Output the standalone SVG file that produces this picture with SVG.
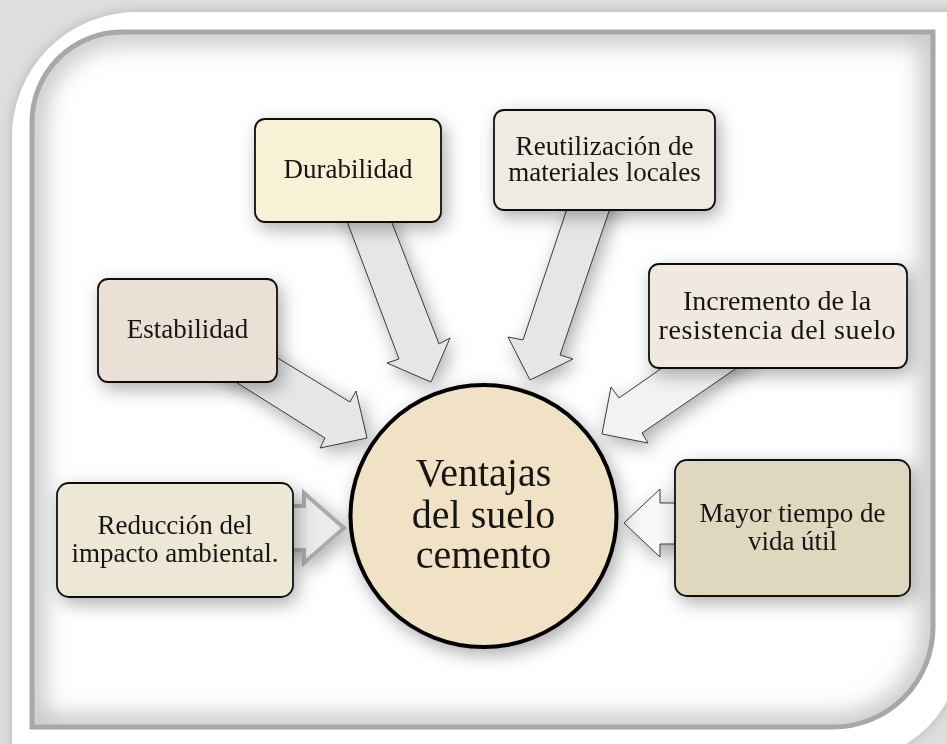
<svg xmlns="http://www.w3.org/2000/svg" width="947" height="744" viewBox="0 0 947 744">
<defs>
<style>
.box{stroke:#111;stroke-width:1.8}
.t{font-family:"Liberation Serif","Times New Roman",serif;font-size:27px;fill:#141414;text-anchor:middle}
.big{font-size:40px}
.arr{fill:#e6e6e6;stroke:#3a3a3a;stroke-width:1;stroke-linejoin:miter}
</style>
<filter id="sh" x="-30%" y="-30%" width="160%" height="160%">
<feDropShadow dx="4" dy="6" stdDeviation="9" flood-color="#000" flood-opacity="0.32"/>
</filter>
<filter id="fsh" x="-10%" y="-10%" width="120%" height="120%">
<feDropShadow dx="0" dy="0" stdDeviation="6" flood-color="#000" flood-opacity="0.2"/>
</filter>
<filter id="blur" x="-10%" y="-10%" width="120%" height="120%">
<feGaussianBlur stdDeviation="12"/>
</filter>
<clipPath id="panelClip">
<path d="M32,122 A90,90 0 0 1 122,32 H933 V627 A100,100 0 0 1 833,727 H32 Z"/>
</clipPath>
</defs>

<rect x="0" y="0" width="947" height="744" fill="#dedede"/>
<path d="M12,137 A125,125 0 0 1 137,12 H960 V630 A115,115 0 0 1 832,760 H12 Z" fill="#ffffff" filter="url(#fsh)"/>
<path d="M32,122 A90,90 0 0 1 122,32 H933 V627 A100,100 0 0 1 833,727 H32 Z" fill="#ffffff"/>
<g clip-path="url(#panelClip)">
<path d="M32,122 A90,90 0 0 1 122,32 H933 V627 A100,100 0 0 1 833,727 H32 Z" fill="none" stroke="#bdbdbd" stroke-width="22" filter="url(#blur)"/>
</g>
<path d="M32,122 A90,90 0 0 1 122,32 H933 V627 A100,100 0 0 1 833,727 H32 Z" fill="none" stroke="#a8a8a8" stroke-width="5"/>

<g id="connectors" filter="url(#sh)">
<polygon class="arr" points="243,337 350,402 356,391 367,438 320,448 325,438 204,362"/>
<polygon class="arr" points="336,192 399,359 387,363 431,382 450,338 439,344 380,192"/>
<polygon class="arr" points="576,182 523,340 508,337 530,380 573,359 560,355 619,182"/>
<polygon class="arr" style="fill:#f2f2f2" points="685,352 619,398 611,387 602,434 648,443 642,433 760,352"/>
<polygon class="arr" style="fill:#f7f7f7" points="700,503 660,503 660,489 624,523 660,557 660,544 700,544"/>
<polygon points="270,506 304,506 304,493 344,528 304,563 304,550 270,550" fill="#ebebeb" stroke="#ababab" stroke-width="4" stroke-linejoin="miter"/>
</g>

<g id="node-durabilidad" filter="url(#sh)">
<rect class="box" x="255" y="119" width="186" height="103" rx="10" fill="#f9f1d5"/>
<text class="t" x="348" y="178">Durabilidad</text>
</g>
<g id="node-reutilizacion" filter="url(#sh)">
<rect class="box" x="494" y="110" width="221" height="100" rx="10" fill="#efebe1"/>
<text class="t" x="604.5" y="155" textLength="178" lengthAdjust="spacing">Reutilización de</text>
<text class="t" x="604.5" y="181">materiales locales</text>
</g>
<g id="node-estabilidad" filter="url(#sh)">
<rect class="box" x="98" y="279" width="179" height="103" rx="10" fill="#ebe0d6"/>
<text class="t" x="187.5" y="338">Estabilidad</text>
</g>
<g id="node-incremento" filter="url(#sh)">
<rect class="box" x="649" y="264" width="258" height="104" rx="10" fill="#efe9df"/>
<text class="t" x="777" y="310" style="font-size:28px">Incremento de la</text>
<text class="t" x="777" y="339" style="font-size:28px" textLength="237" lengthAdjust="spacing">resistencia del suelo</text>
</g>
<g id="node-mayor" filter="url(#sh)">
<rect class="box" x="675" y="460" width="235" height="136" rx="12" fill="#e0d8be"/>
<text class="t" x="792.5" y="522">Mayor tiempo de</text>
<text class="t" x="792.5" y="550">vida útil</text>
</g>
<g id="node-reduccion" filter="url(#sh)">
<rect class="box" x="57" y="483" width="236" height="114" rx="12" fill="#ede8d5"/>
<text class="t" x="175" y="534">Reducción del</text>
<text class="t" x="175" y="562">impacto ambiental.</text>
</g>
<g id="node-center" filter="url(#sh)">
<ellipse cx="483.5" cy="516" rx="133" ry="131" fill="#f2e2c5" stroke="#000" stroke-width="4"/>
<text class="t big" x="483.5" y="486">Ventajas</text>
<text class="t big" x="483.5" y="528">del suelo</text>
<text class="t big" x="483.5" y="568">cemento</text>
</g>
</svg>
